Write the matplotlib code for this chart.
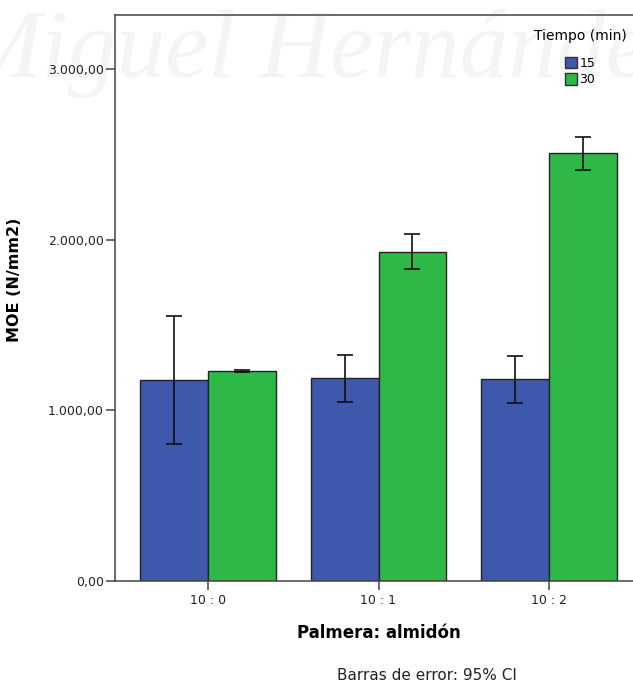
import matplotlib
matplotlib.use('Agg')
import matplotlib.pyplot as plt
import numpy as np
from matplotlib.patches import Patch
from matplotlib.ticker import FuncFormatter

# %%
##--------------------DATA-------------------##
groups = ['10 : 0', '10 : 1', '10 : 2']
tiempos = ['15', '30']

moe_15 = [1175, 1190, 1185]
moe_30 = [1230, 1930, 2506]

ci_low_15 = [803, 1051, 1045]
ci_high_15 = [1550, 1326, 1318]
ci_low_30 = [1222, 1828, 2408]
ci_high_30 = [1238, 2031, 2603]

colors = ['#3e58ac', '#2eb848']

# %%
##--------------------PLOT-------------------##
W, H = 633, 685
fig = plt.figure(figsize=(W / 100, H / 100), dpi=100)
ax = fig.add_axes([115 / W, (H - 581) / H, 527 / W, 566 / H])
ax.patch.set_alpha(0)

# very faint watermark behind the chart
fig.text(-40 / W, (H - 77) / H, 'Miguel Hernández', family='Liberation Serif',
         style='italic', fontsize=70, color='#f4f4f4', zorder=-5)

x = np.arange(len(groups))
w = 0.397
series = [(moe_15, ci_low_15, ci_high_15), (moe_30, ci_low_30, ci_high_30)]
for i, (vals, lo, hi) in enumerate(series):
    pos = x + (i - 0.5) * w
    vals = np.array(vals)
    yerr = [vals - np.array(lo), np.array(hi) - vals]
    ax.bar(pos, vals, width=w, color=colors[i], edgecolor='#222222', linewidth=1.0, zorder=2)
    ax.errorbar(pos, vals, yerr=yerr, fmt='none', ecolor='#111111', elinewidth=1.2,
                capsize=6, capthick=1.2, zorder=3)

ax.set_xlim(-0.545, 2.545)
ax.set_ylim(0, 3316)
ax.set_yticks([0, 1000, 2000, 3000])
fmt = lambda v, p: f"{v:,.2f}".replace(',', 'X').replace('.', ',').replace('X', '.')
ax.yaxis.set_major_formatter(FuncFormatter(fmt))
ax.set_xticks(x)
ax.set_xticklabels(groups)

for s in ['left', 'bottom', 'top']:
    ax.spines[s].set_color('#444444')
    ax.spines[s].set_linewidth(1.1)
ax.spines['right'].set_visible(False)
ax.tick_params(axis='both', direction='out', length=6.5, width=1.1, color='#444444',
               labelsize=9, labelcolor='#222222', pad=1.5)
ax.tick_params(axis='x', pad=3)

ax.set_ylabel('MOE (N/mm2)', fontsize=11.5, fontweight='bold')
ax.yaxis.set_label_coords((22 - 115) / 527, (581 - 280) / 566)
ax.set_xlabel('Palmera: almidón', fontsize=12, fontweight='bold', labelpad=12)

fig.text(427 / W, (H - 675) / H, 'Barras de error: 95% CI', fontsize=11,
         ha='center', va='center', color='#222222')

handles = [Patch(facecolor=colors[i], edgecolor='#333333', label=tiempos[i]) for i in range(2)]
leg = ax.legend(handles=handles, title='Tiempo (min)', loc='upper center',
                bbox_to_anchor=(580 / W, (H - 23) / H), bbox_transform=fig.transFigure,
                frameon=False, fontsize=9, title_fontsize=10, handlelength=1.0,
                handleheight=1.0, handletextpad=0.15, labelspacing=0.25, borderpad=0)
leg._legend_box.sep = 10

fig.savefig('out.png', dpi=100)
